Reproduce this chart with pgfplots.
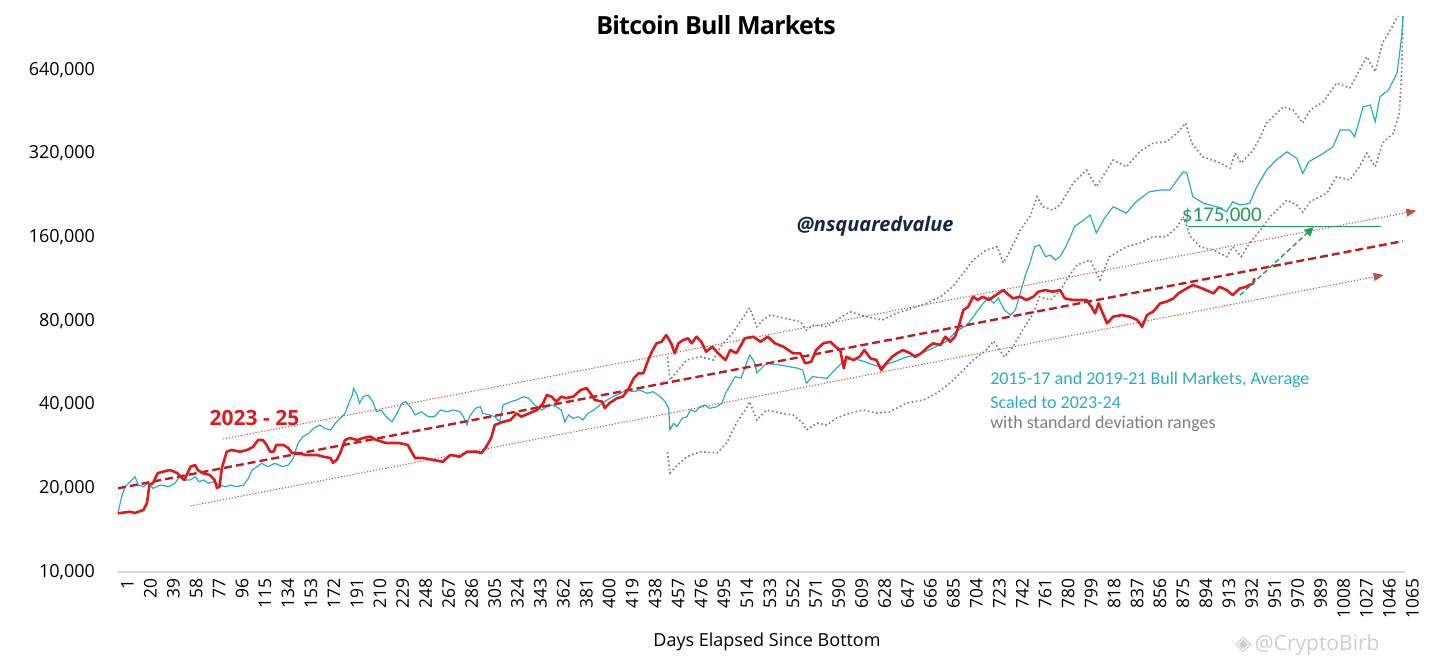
\documentclass[border=0pt]{standalone}
\usepackage{fontspec}
\setmainfont{Open Sans}
\newfontfamily\carlito{Carlito}
\newfontfamily\dejavu{DejaVu Sans}
\newfontfamily\titlefont[LetterSpace=-3]{Open Sans}
\usepackage{pgfplots}
\pgfplotsset{compat=1.18}
\usetikzlibrary{arrows.meta}
\definecolor{btcred}{RGB}{220,28,28}
\definecolor{trendred}{RGB}{185,30,35}
\definecolor{chanred}{RGB}{190,80,70}
\definecolor{avgcyan}{RGB}{40,172,200}
\definecolor{bandgray}{RGB}{125,125,125}
\definecolor{tgreen}{RGB}{35,155,90}
\definecolor{navy}{RGB}{22,36,72}
\definecolor{axgray}{RGB}{217,217,217}
\begin{document}
\begin{tikzpicture}
\path[use as bounding box] (-58.7pt,-49pt) rectangle (657.3pt,286pt);
\begin{axis}[
  at={(0,0)}, anchor=south west,
  scale only axis, width=643.7pt, height=278pt,
  xmin=0.5, xmax=1066.5, ymin=10000, ymax=1000000,
  ymode=log, clip=false,
  axis line style={draw=none},
  major tick length=0pt,
  xtick={1,20,...,1065},
  /pgf/number format/assume math mode=true,
  xticklabel={\pgfmathprintnumber[fixed,precision=0,1000 sep={}]{\tick}},
  xticklabel style={rotate=90, anchor=east, font=\fontsize{8.7}{10}\selectfont, yshift=-4.7pt},
  ytick={10000,20000,40000,80000,160000,320000,640000},
  yticklabels={{10,000},{20,000},{40,000},{80,000},{160,000},{320,000},{640,000}},
  yticklabel style={font=\fontsize{9}{10}\selectfont, xshift=-7.7pt},
  extra y ticks={10000}, extra y tick labels={},
  extra y tick style={ymajorgrids=true, major grid style={draw=axgray, line width=0.6pt}},
]
% ---- standard deviation bands
\addplot[bandgray, line width=0.8pt, dash pattern=on 0.8pt off 1.3pt] table {
456 59340
458 49050
472 57900
483 59500
494 57900
500 64600
510 72400
519 82800
524 89000
530 76300
535 80600
541 84000
552 82000
566 79500
571 74200
577 77300
588 76300
596 80600
607 86300
621 82800
634 80600
646 85400
659 89000
671 92800
682 97700
692 105900
701 118900
709 132500
720 143900
729 147900
734 129300
740 143900
748 169800
756 189700
762 223800
767 205900
775 200400
781 209000
792 250700
803 279100
811 243000
825 303200
836 286900
847 325000
858 349000
869 352900
878 379000
885 411900
890 349000
899 311700
911 299000
922 283800
926 321000
931 295900
941 329400
947 367800
952 411900
966 471500
974 458800
982 411900
988 458800
999 491500
1010 573700
1021 550700
1029 639000
1035 713700
1042 629800
1048 798800
1056 914600
1061 1000000
};
\addplot[bandgray, line width=0.8pt, dash pattern=on 0.8pt off 1.3pt] table {
456 27020
458 22700
466 24660
472 26000
483 27080
497 26800
505 29100
513 34340
522 39300
524 41000
530 35210
538 38250
549 37300
560 36700
568 34340
571 32420
580 34340
588 33780
596 35800
607 37300
618 38250
629 37300
640 37700
654 40500
668 41560
679 44000
690 47840
701 53270
709 57870
720 62870
726 67700
731 62870
735 59300
742 64600
750 74190
759 85400
764 97700
773 95110
781 102500
789 117000
795 127100
806 132500
814 112300
822 136200
836 147900
847 152500
858 160700
869 160700
878 174500
883 189700
889 160700
897 147900
908 143900
919 136200
924 147900
931 136200
938 152500
947 169800
955 189700
969 217700
977 209000
982 197100
988 214700
1002 230700
1010 264100
1021 256900
1029 286900
1035 321000
1042 286900
1048 349000
1057 379000
1062 447500
1064 640000
1065 1000000
};
% ---- average of prior bull markets
\addplot[avgcyan, line width=0.6pt] table {
1 16300
4 18670
7 20270
11 21120
15 22020
18 20550
22 20270
26 20840
30 20000
36 20550
43 20270
48 20840
52 22020
55 21420
61 21420
65 22020
68 21120
72 21420
76 20840
80 21120
85 20550
90 20270
94 20550
99 20270
105 20550
109 21720
112 23270
116 23920
120 24600
125 23920
131 24600
137 23920
142 24250
146 25630
150 29040
154 30680
159 31540
163 32880
168 33790
172 32880
177 32420
181 34270
185 35700
189 37220
192 40430
195 43320
196 45770
199 43320
201 40430
204 42720
208 43320
212 40970
215 37710
219 38250
223 36200
228 34720
232 37220
236 40430
239 40970
243 39320
247 36700
252 37710
258 36200
263 36200
268 38250
273 37710
279 38250
284 37710
287 36200
290 33790
292 36200
297 38790
301 39320
303 37220
309 36700
313 36200
317 34720
320 39870
326 40970
331 41560
337 42720
341 42140
346 39870
352 38250
356 39320
360 39870
364 39320
368 38250
371 34720
374 36700
378 35700
382 36200
386 35210
390 37220
395 38250
400 39870
406 41560
411 42720
417 43930
422 45140
428 44510
433 45140
439 43930
444 44510
450 42720
454 40970
457 38790
458 32420
461 34270
464 33330
468 35700
472 36200
475 38250
479 37710
483 39320
487 39870
491 38790
497 39320
501 40430
504 43930
508 47050
512 50410
517 49860
521 55520
524 60320
528 56920
530 51970
538 56310
549 55520
563 54160
568 53270
571 47710
576 50410
588 49740
596 54160
604 58350
615 57870
632 54610
640 56310
654 59330
665 60820
676 63920
687 67460
695 73290
704 77330
709 82630
715 89770
722 97510
726 92550
730 96450
735 87560
740 84010
744 87560
748 100530
752 115440
756 128850
760 147930
764 149990
769 136210
773 138100
777 132500
781 136210
785 145900
789 158600
793 174550
797 179940
806 192300
811 165700
818 187600
825 206000
836 195500
844 214600
855 233200
864 236500
872 236500
883 275100
886 272200
891 223800
900 211800
911 206000
919 197600
924 214600
930 208900
938 211800
944 243100
952 279100
960 303200
969 324700
977 307400
982 271500
987 298900
999 320500
1007 338600
1013 388800
1021 388800
1025 367800
1032 471600
1038 478200
1042 416400
1046 512300
1053 541500
1060 621700
1062 723600
1064 854000
1065 1000000
};
% ---- channel lines
\addplot[chanred, line width=0.5pt, dash pattern=on 0.6pt off 0.9pt,
  -{Triangle[length=5pt,width=4pt,sep=0pt]}] coordinates {(88,30090) (1076,199200)};
\addplot[chanred, line width=0.5pt, dash pattern=on 0.6pt off 0.9pt,
  -{Triangle[length=5pt,width=4pt,sep=0pt]}] coordinates {(61,17270) (1049,117000)};
% ---- trend
\addplot[trendred, line width=1.2pt, dash pattern=on 4pt off 2pt] coordinates {(1,20000) (1065,155000)};
% ---- 2023-25
\addplot[btcred, line width=1.3pt, line join=round] table {
1 16260
11 16470
15 16300
22 16710
25 17710
27 20550
30 20900
34 22700
44 23270
50 22700
54 21780
56 21420
61 23920
65 24250
67 23270
71 22700
77 22330
81 21420
83 20050
85 20270
87 23660
91 27080
95 27470
102 27080
108 27470
113 28240
117 29840
121 29840
124 28630
127 27080
130 27080
132 28630
138 28630
142 27930
145 26790
149 26790
157 26350
166 26350
171 25990
177 25700
179 24720
182 25280
185 26790
189 29840
193 30340
199 29840
204 30340
210 30680
215 29840
223 29110
234 29110
241 28630
244 27080
247 25700
254 25700
262 25280
270 24920
276 26350
284 25990
290 27080
298 27080
302 26790
306 28240
310 30340
313 33790
320 34720
326 35210
331 37220
335 36200
342 37310
348 38250
353 40430
356 43320
360 42720
364 40970
368 42720
372 42250
378 42720
384 45140
389 45890
392 44040
396 41560
402 40970
404 38890
408 40530
414 42140
419 42720
424 45770
428 49740
432 51840
436 51840
440 57870
443 61980
447 66450
451 67330
455 71190
459 66450
462 61170
465 66450
469 68300
473 69260
476 66450
480 70210
484 67330
488 61980
493 64630
498 61170
504 57870
508 62870
513 61170
520 69260
527 70210
533 67330
539 70210
545 66450
552 64630
560 61170
566 61170
570 56310
575 57050
579 62870
585 66450
591 67330
595 64630
599 62870
602 54020
604 59490
610 57870
615 59490
619 62870
624 58680
629 57870
633 53270
637 56310
642 59490
646 61170
651 62870
657 61170
661 59490
666 61170
672 64630
676 66450
682 65530
686 70210
690 67330
694 70210
697 76270
701 87560
705 90010
709 97780
713 95110
717 97780
722 95110
726 97780
730 100530
734 103300
737 100530
742 96450
748 97780
753 95110
759 97780
763 101860
769 103300
775 101860
781 103300
785 96450
792 95110
803 95110
807 90010
810 85180
813 92550
817 84010
820 78420
825 82860
832 84010
839 82860
845 80600
849 76270
853 84010
858 86320
864 92550
869 93780
875 96450
879 100530
886 104750
891 107670
895 106200
902 103300
908 100530
913 106200
919 103300
924 99130
930 104750
935 106200
941 109190
942 113870
};
% ---- target
\addplot[tgreen, line width=0.8pt] coordinates {(887,175000) (1047,175000)};
\addplot[tgreen, line width=0.7pt, dash pattern=on 2.5pt off 1.5pt,
  -{Triangle[length=4.5pt,width=4.5pt,sep=0pt]}] coordinates {(930,99000) (991,174000)};
% ---- annotations
\node[text=btcred, font=\fontsize{10.5}{12}\selectfont\bfseries] at (axis cs:114,35800) {2023 - 25};
\node[text=navy, font=\fontsize{10}{12}\selectfont\bfseries\itshape] at (axis cs:628,175500) {@nsquaredvalue};
\node[text=tgreen, font=\carlito\fontsize{10.5}{12}\selectfont] at (axis cs:915,190700) {\$175,000};
\node[anchor=west, inner sep=0pt, text=avgcyan, font=\carlito\fontsize{9}{10}\selectfont] at (axis cs:723,49040) {2015-17 and 2019-21 Bull Markets, Average};
\node[anchor=west, inner sep=0pt, text=avgcyan, font=\carlito\fontsize{9}{10}\selectfont] at (axis cs:723,40870) {Scaled to 2023-24};
\node[anchor=west, inner sep=0pt, text=bandgray, font=\carlito\fontsize{9}{10}\selectfont] at (axis cs:723,34070) {with standard deviation ranges};
\node[font=\titlefont\fontsize{12.5}{15}\selectfont\bfseries] at (rel axis cs:0.465,0.984) {Bitcoin Bull Markets};
\node[font=\fontsize{9}{11}\selectfont] at (rel axis cs:0.5046,0) [yshift=-35pt] {Days Elapsed Since Bottom};
\node[anchor=west, inner sep=0pt, text={rgb,255:red,205;green,205;blue,205}, font=\fontsize{10.5}{12}\selectfont] at (rel axis cs:0.868,0) [yshift=-36.5pt] {{\dejavu ◈}\,@CryptoBirb};
\end{axis}
\end{tikzpicture}
\end{document}
